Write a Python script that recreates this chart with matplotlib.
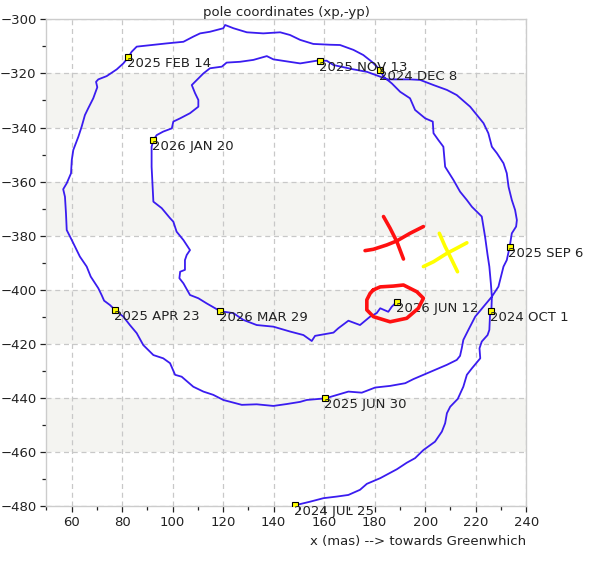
import numpy as np
import matplotlib
matplotlib.use("Agg")
from matplotlib import pyplot as plt

# pole path, x and -y in mas, 2024 JUL 25 -> 2026 JUN 12
pole_x = [
    148.6, 154.4, 159.7, 165.0, 169.6, 174.2, 176.9, 182.2, 188.8, 192.7, 196.0, 199.3, 203.9, 206.6,
    207.9, 208.6, 209.9, 212.9, 215.1, 216.5, 218.5, 221.8, 221.5, 222.4, 224.7, 225.4, 225.7, 226.2,
    226.4, 226.0, 225.4, 224.7, 223.7, 222.4, 218.5, 216.5, 213.8, 211.2, 207.9, 207.2, 205.2, 203.3,
    203.0, 200.0, 196.0, 194.0, 190.1, 186.8, 183.5, 182.2,
    178.9, 175.5, 171.6, 166.3, 162.4, 155.7, 150.5, 146.5, 142.6, 135.9, 129.4, 124.1, 120.8, 120.1,
    114.8, 110.9, 108.2, 104.3, 97.7, 85.8, 83.8, 82.5,
    80.5, 77.9, 73.9, 70.6, 69.7, 70.2, 68.6, 66.6, 65.3, 64.0, 62.7, 60.7, 60.1, 59.8, 58.1, 56.7,
    57.4, 57.8, 58.1, 60.1, 63.3, 66.0, 67.6, 70.6, 71.9, 72.9, 75.2, 77.3,
    80.5, 83.1, 85.8, 88.4, 92.4, 96.3, 99.0, 101.0, 103.6, 108.2, 112.2, 116.1, 120.1, 124.1, 127.4,
    133.3, 139.9, 145.2, 150.5, 153.1, 160.5,
    169.6, 174.9, 180.2, 186.1, 192.1, 195.3, 199.3, 204.6, 208.6, 212.5, 213.8, 214.5, 215.1, 217.1,
    219.8, 223.1, 226.4, 229.0, 231.0, 232.3, 233.4,
    234.3, 236.0, 236.3, 235.6, 234.3, 233.0, 232.3, 231.0, 228.4, 226.4, 225.0, 223.1, 217.8, 212.5,
    208.6, 203.3, 198.0, 194.0, 184.8, 182.2, 176.9, 171.6, 163.7, 161.0, 158.4,
    157.1, 150.5, 139.9, 137.3, 132.0, 126.7, 121.4, 119.5, 114.8, 112.2, 109.6, 107.6, 108.9, 110.2,
    110.2, 106.9, 103.0, 100.3, 99.7, 96.3, 93.7, 92.4,
    91.7, 91.7, 92.1, 92.4, 95.7, 99.0, 100.3, 101.6, 104.3, 106.9, 105.6, 104.9, 104.9, 103.0, 102.7,
    104.3, 106.9, 110.2, 113.5, 116.8, 118.9,
    124.1, 128.0, 133.3, 139.9, 146.5, 151.8, 155.1, 156.4, 163.7, 165.6, 169.6, 174.2, 178.2, 180.8,
    182.2, 185.4, 186.8, 188.8,
]
pole_y = [
    -479.6, -478.3, -477.0, -476.4, -475.8, -473.9, -471.7, -469.6, -466.3, -463.9, -462.2, -459.2, -456.1, -452.4,
    -449.3, -445.6, -443.2, -440.3, -435.8, -431.4, -429.0, -425.3, -421.6, -419.1, -416.7, -414.8, -408.6, -407.8,
    -402.5, -397.6, -391.4, -387.1, -380.3, -372.9, -369.3, -366.8, -363.7, -359.4, -354.5, -347.1, -344.6, -342.1,
    -337.8, -336.6, -333.5, -329.2, -326.8, -323.7, -321.2, -318.7,
    -315.7, -313.2, -311.3, -309.5, -309.4, -309.1, -307.6, -305.8, -304.8, -305.2, -304.8, -303.3, -302.1, -303.3,
    -304.6, -305.2, -306.4, -308.3, -308.9, -310.1, -312.0, -314.0,
    -316.3, -318.5, -321.0, -322.2, -323.1, -325.1, -329.2, -332.9, -335.4, -339.7, -343.4, -348.3, -352.0, -356.9,
    -360.6, -362.8, -365.6, -371.7, -377.9, -381.6, -387.7, -391.4, -395.1, -399.4, -401.9, -404.0, -405.6, -407.5,
    -409.9, -413.0, -416.0, -420.4, -424.1, -425.3, -427.1, -431.4, -432.1, -435.8, -437.6, -438.8, -440.7, -441.7,
    -442.5, -442.3, -442.9, -442.2, -441.4, -440.7, -440.1,
    -437.6, -438.0, -436.1, -435.5, -434.5, -433.0, -431.4, -429.3, -427.7, -425.9, -424.4, -421.5, -418.5, -414.8,
    -409.9, -406.2, -402.5, -398.8, -391.4, -389.0, -384.3,
    -379.1, -376.6, -374.2, -370.5, -366.8, -361.9, -356.9, -353.2, -349.5, -347.1, -342.1, -338.4, -332.3, -328.0,
    -326.1, -324.3, -322.4, -322.2, -322.2, -321.2, -319.4, -318.5, -316.9, -315.3, -315.4,
    -315.3, -316.3, -314.8, -313.6, -315.0, -315.7, -316.0, -317.5, -318.1, -320.0, -322.4, -324.3, -327.3, -329.8,
    -332.3, -334.7, -336.6, -337.8, -340.3, -341.5, -342.8, -344.7,
    -347.1, -354.5, -361.9, -367.4, -369.8, -373.5, -374.8, -378.5, -381.6, -385.3, -387.1, -389.0, -392.6, -393.3,
    -395.7, -397.6, -401.9, -403.1, -405.0, -406.8, -407.9,
    -408.6, -411.1, -413.0, -413.6, -415.4, -416.7, -418.9, -417.0, -415.8, -414.2, -411.4, -413.0, -409.9, -408.6,
    -406.8, -408.1, -406.2, -404.4,
]

# dated points along the path
date_labels = ['2024 JUL 25', '2024 OCT 1', '2024 DEC 8', '2025 FEB 14', '2025 APR 23', '2025 JUN 30',
               '2025 SEP 6', '2025 NOV 13', '2026 JAN 20', '2026 MAR 29', '2026 JUN 12']
date_x = [148.6, 226.2, 182.2, 82.5, 77.3, 160.5, 233.4, 158.4, 92.4, 118.9, 188.8]
date_y = [-479.6, -407.8, -318.7, -314.0, -407.5, -440.1, -384.3, -315.4, -344.7, -407.9, -404.4]

# hand drawn marks on top of the chart
red_cross_a_x = [176.2, 179.5, 184.8, 188.8, 194.0, 199.3]
red_cross_a_y = [-385.5, -385.0, -383.4, -381.9, -379.1, -376.6]
red_cross_b_x = [183.5, 186.1, 188.8, 191.4]
red_cross_b_y = [-372.9, -377.2, -382.2, -388.6]
yellow_cross_a_x = [199.3, 203.3, 208.6, 212.5, 216.5]
yellow_cross_a_y = [-391.4, -389.6, -386.5, -384.6, -382.6]
yellow_cross_b_x = [205.6, 207.9, 209.9, 212.8]
yellow_cross_b_y = [-379.1, -384.0, -387.7, -393.3]
red_ring_x = [179.5, 182.2, 187.4, 191.4, 196.7, 199.3, 197.3, 192.7, 186.1, 179.5, 176.9, 176.9, 178.2, 179.5]
red_ring_y = [-400.0, -398.9, -398.6, -398.2, -400.7, -403.1, -406.8, -410.5, -411.8, -409.9, -407.4, -403.7,
              -401.3, -400.0]

bands = [(-340, -320), (-380, -360), (-420, -400), (-460, -440)]

plt.rcParams['font.family'] = 'DejaVu Sans'
fig = plt.figure(figsize=(5.94, 5.63), dpi=100)
ax = fig.add_axes([0.0779, 0.1007, 0.808, 0.865])

for lo, hi in bands:
    ax.axhspan(lo, hi, color='#f4f4f1', zorder=0, lw=0)

ax.set_xlim(50, 240)
ax.set_ylim(-480, -300)
ax.set_xticks(np.arange(60, 241, 20))
ax.set_xticks(np.arange(50, 241, 10), minor=True)
ax.set_yticks(np.arange(-480, -299, 20))
ax.set_yticks(np.arange(-480, -299, 10), minor=True)
ax.grid(True, which='major', color='#c8c8c8', linestyle=(0, (4, 3)), lw=0.9, zorder=1)
ax.tick_params(which='both', direction='out', length=4, width=0.9, color='#222222',
               labelsize=9.5, labelcolor='#222222', pad=3)
ax.tick_params(which='minor', length=3)
for s in ax.spines.values():
    s.set_color('#cccccc')
    s.set_linewidth(1.0)

ax.plot(pole_x, pole_y, color='#3a1cf0', lw=1.3, zorder=3)
ax.plot(date_x, date_y, ls='none', marker='s', ms=4.5, mfc='#ffff00', mec='black', mew=0.8, zorder=4)
for lab, x, y in zip(date_labels, date_x, date_y):
    ax.annotate(lab, (x, y), xytext=(-1, 0), textcoords='offset points', ha='left', va='top',
                fontsize=9.5, color='#222222', zorder=5, annotation_clip=False)

for xs, ys, c in [(red_cross_a_x, red_cross_a_y, '#ff1010'), (red_cross_b_x, red_cross_b_y, '#ff1010'),
                  (yellow_cross_a_x, yellow_cross_a_y, '#ffff00'), (yellow_cross_b_x, yellow_cross_b_y, '#ffff00'),
                  (red_ring_x, red_ring_y, '#ff1010')]:
    ax.plot(xs, ys, color=c, lw=2.6, solid_capstyle='round', solid_joinstyle='round', zorder=6)

ax.set_title('pole coordinates (xp,-yp)', fontsize=9.5, color='#222222', pad=2)
ax.set_xlabel('x (mas) --> towards Greenwhich', fontsize=9.5, color='#222222', loc='right', labelpad=4)

plt.savefig('out.png', dpi=100)
plt.close()
